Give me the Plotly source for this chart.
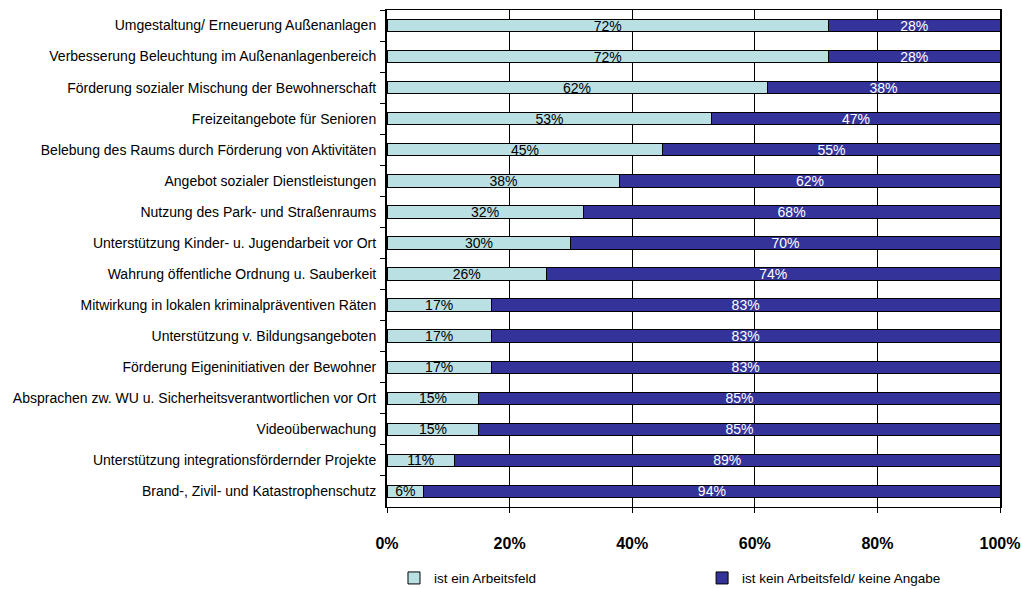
import plotly.graph_objects as go

categories = [
    "Umgestaltung/ Erneuerung Außenanlagen",
    "Verbesserung Beleuchtung im Außenanlagenbereich",
    "Förderung sozialer Mischung der Bewohnerschaft",
    "Freizeitangebote für Senioren",
    "Belebung des Raums durch Förderung von Aktivitäten",
    "Angebot sozialer Dienstleistungen",
    "Nutzung des Park- und Straßenraums",
    "Unterstützung Kinder- u. Jugendarbeit vor Ort",
    "Wahrung öffentliche Ordnung u. Sauberkeit",
    "Mitwirkung in lokalen kriminalpräventiven Räten",
    "Unterstützung v. Bildungsangeboten",
    "Förderung Eigeninitiativen der Bewohner",
    "Absprachen zw. WU u. Sicherheitsverantwortlichen vor Ort",
    "Videoüberwachung",
    "Unterstützung integrationsfördernder Projekte",
    "Brand-, Zivil- und Katastrophenschutz",
]
ist_arbeitsfeld = [72, 72, 62, 53, 45, 38, 32, 30, 26, 17, 17, 17, 15, 15, 11, 6]
kein_arbeitsfeld = [28, 28, 38, 47, 55, 62, 68, 70, 74, 83, 83, 83, 85, 85, 89, 94]
x_ticks = [0, 20, 40, 60, 80, 100]

FONT = "Liberation Sans, Arial, sans-serif"

fig = go.Figure()
fig.add_trace(go.Bar(
    y=categories, x=ist_arbeitsfeld, orientation="h",
    name="ist ein Arbeitsfeld", legend="legend",
    marker=dict(color="#BBE0E3", line=dict(color="#000000", width=1)),
    text=[f"{v}%" for v in ist_arbeitsfeld],
    textposition="inside", insidetextanchor="middle", constraintext="none",
    insidetextfont=dict(family=FONT, size=14, color="#000000"),
    hoverinfo="skip",
))
fig.add_trace(go.Bar(
    y=categories, x=kein_arbeitsfeld, orientation="h",
    name="ist kein Arbeitsfeld/ keine Angabe", legend="legend2",
    marker=dict(color="#333399", line=dict(color="#000000", width=1)),
    text=[f"{v}%" for v in kein_arbeitsfeld],
    textposition="inside", insidetextanchor="middle", constraintext="none",
    insidetextfont=dict(family=FONT, size=14, color="#FFFFFF"),
    hoverinfo="skip",
))

legend_style = dict(
    orientation="h", y=-0.112, xanchor="left", yanchor="top",
    font=dict(family=FONT, size=13.5, color="#000000"),
    itemwidth=30, bgcolor="rgba(0,0,0,0)",
)

fig.update_layout(
    barmode="stack",
    bargap=0.6,
    width=1021, height=589,
    margin=dict(l=387, r=21, t=10, b=82, autoexpand=False),
    paper_bgcolor="#FFFFFF", plot_bgcolor="#FFFFFF",
    font=dict(family=FONT, size=14, color="#000000"),
    showlegend=True,
    legend=dict(x=0.0114, **legend_style),
    legend2=dict(x=0.514, **legend_style),
)
fig.update_xaxes(
    range=[0, 100], tickvals=x_ticks, ticktext=[f"{v}%" for v in x_ticks],
    tickfont=dict(family=FONT, size=16, color="#000000", weight="bold"),
    showgrid=True, gridcolor="#000000", gridwidth=1,
    showline=True, linecolor="#000000", linewidth=1, mirror=True,
    ticks="outside", ticklen=5, tickcolor="#000000",
    ticklabelstandoff=17, zeroline=False, fixedrange=True,
)
fig.update_yaxes(
    autorange="reversed", tickson="boundaries",
    ticks="outside", ticklen=5, tickcolor="#000000",
    showline=True, linecolor="#000000", linewidth=2, mirror=True,
    tickfont=dict(family=FONT, size=14, color="#000000"),
    ticklabelstandoff=6, showgrid=False, fixedrange=True,
)

fig.write_html("out.html")
